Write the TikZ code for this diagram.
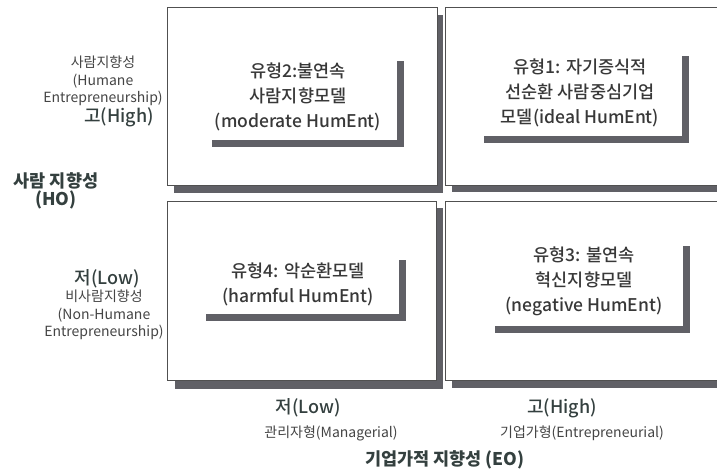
\documentclass[tikz,border=0pt]{standalone}
\usepackage{fontspec}
\setmainfont{Noto Sans CJK KR}
\newfontfamily\krmed{Noto Sans CJK KR Medium}
\definecolor{shade}{HTML}{606066}
\definecolor{frame}{HTML}{505050}
\definecolor{boxtext}{HTML}{383838}
\definecolor{axis}{HTML}{34403F}
\definecolor{small}{HTML}{444444}
\tikzset{
  shadowbar/.style={fill=shade, draw=none},
  quad/.style={draw=frame, line width=0.9pt, fill=white},
  boxlabel/.style={text=boxtext, align=center, inner sep=0pt, font=\krmed\fontsize{17.5}{25}\selectfont},
  sidelabel/.style={text=small, align=center, inner sep=0pt, font=\fontsize{14}{17.5}\selectfont},
  levellabel/.style={text=axis, inner sep=0pt, font=\krmed\fontsize{18}{20}\selectfont},
  axislabel/.style={text=axis, align=center, inner sep=0pt, font=\bfseries\fontsize{17.5}{18}\selectfont},
}
\begin{document}
\begin{tikzpicture}[x=1pt,y=-1pt]
\useasboundingbox (0,0) rectangle (717,472);
\clip (0,0) rectangle (717,472);
% shadows
\fill[shadowbar] (174,15) rectangle (443,193);
\fill[shadowbar] (452,15) rectangle (730,192);
\fill[shadowbar] (175,208) rectangle (443,389);
\fill[shadowbar] (452,208) rectangle (730,388);
% boxes
\draw[quad] (167,7) rectangle (437,185);
\draw[quad] (445,7) rectangle (725,185);
\draw[quad] (167,201) rectangle (436,380);
\draw[quad] (445,201) rectangle (725,380);
% L bars
\fill[shadowbar] (397,61) rectangle (404,147);
\fill[shadowbar] (212,140) rectangle (404,147);
\fill[shadowbar] (682,56) rectangle (689,143);
\fill[shadowbar] (484,136) rectangle (689,143);
\fill[shadowbar] (399,260) rectangle (406,321);
\fill[shadowbar] (206,314) rectangle (406,321);
\fill[shadowbar] (683,246) rectangle (690,333);
\fill[shadowbar] (495,326) rectangle (690,333);
% box texts
\node[boxlabel] (t2) at (298,97) {유형2:불연속\\사람지향모델\\(moderate HumEnt)};
\node[boxlabel] (t1) at (580,93) {유형1: 자기증식적\\선순환 사람중심기업\\모델(ideal HumEnt)};
\node[boxlabel] (t4) at (298,284) {유형4: 악순환모델\\(harmful HumEnt)};
\node[boxlabel] (t3) at (584,281) {유형3: 불연속\\혁신지향모델\\(negative HumEnt)};
% left labels
\node[sidelabel] (hum) at (103,81) {사람지향성\\(Humane\\Entrepreneurship)};
\node[levellabel] (hi) at (119,117) {고(High)};
\node[axislabel] (ho) at (56,191) {사람 지향성\\(HO)};
\node[levellabel] (lo) at (107,279) {저(Low)};
\node[sidelabel] (nhum) at (104,315) {비사람지향성\\(Non-Humane\\Entrepreneurship)};
% bottom labels
\node[levellabel] (blo) at (308,408) {저(Low)};
\node[sidelabel] (mgr) at (331,433) {관리자형(Managerial)};
\node[levellabel] (bhi) at (562,408) {고(High)};
\node[sidelabel] (ent) at (582,433) {기업가형(Entrepreneurial)};
\node[axislabel] (eo) at (445,460) {기업가적 지향성 (EO)};
\end{tikzpicture}
\end{document}
